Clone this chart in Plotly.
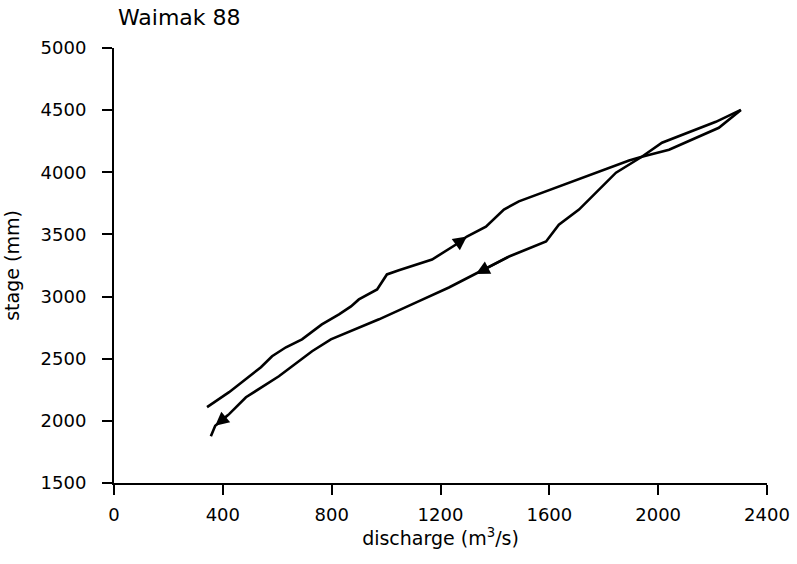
import plotly.graph_objects as go

# Rising limb (upper curve at low flows), discharge m3/s and stage mm
rise_q = [342, 423, 540, 581, 632, 691, 764, 827, 871, 900, 967, 1003, 1047, 1169,
          1257, 1297, 1367, 1433, 1488, 1893, 1940, 2040, 2223, 2304]
rise_h = [2110, 2231, 2431, 2520, 2592, 2656, 2776, 2857, 2921, 2977, 3057, 3178, 3212, 3298,
          3419, 3483, 3563, 3700, 3766, 4095, 4125, 4181, 4358, 4502]

# Falling limb (from the peak back down)
fall_q = [2304, 2212, 2014, 1940, 1845, 1709, 1635, 1588, 1452, 1330, 1231, 1121, 974,
          797, 728, 606, 485, 423, 372, 356]
fall_h = [4502, 4406, 4238, 4125, 3997, 3700, 3579, 3443, 3322, 3182, 3073, 2963, 2817,
          2656, 2560, 2359, 2190, 2054, 1960, 1877]

# indices of points where direction arrows sit
rise_arrow_idx = [15]
fall_arrow_idx = [9, 18]

x_ticks = [0, 400, 800, 1200, 1600, 2000, 2400]
y_ticks = [1500, 2000, 2500, 3000, 3500, 4000, 4500, 5000]

FONT = "DejaVu Sans"
W, H = 797, 564

fig = go.Figure()
fig.add_trace(go.Scatter(x=rise_q, y=rise_h, mode="lines",
                         line=dict(color="black", width=2.6), showlegend=False))
fig.add_trace(go.Scatter(x=fall_q, y=fall_h, mode="lines",
                         line=dict(color="black", width=2.6), showlegend=False))

for xs, ys, idxs in ((rise_q, rise_h, rise_arrow_idx), (fall_q, fall_h, fall_arrow_idx)):
    for i in idxs:
        fig.add_annotation(x=xs[i], y=ys[i], ax=xs[i - 1], ay=ys[i - 1],
                           xref="x", yref="y", axref="x", ayref="y",
                           text="", showarrow=True, arrowhead=2, arrowsize=1.25,
                           arrowwidth=2.2, arrowcolor="black", standoff=0)

fig.update_layout(
    width=W, height=H,
    margin=dict(l=114, r=30, t=48, b=81, autoexpand=False),
    paper_bgcolor="white", plot_bgcolor="white",
    title=dict(text="Waimak 88", xref="container", yref="container",
               x=118 / W, xanchor="left", y=1 - 17.5 / H, yanchor="middle",
               font=dict(family=FONT, size=22, color="black")),
    font=dict(family=FONT, color="black"),
)
fig.update_xaxes(range=[0, 2400], tickvals=x_ticks, ticktext=[str(v) for v in x_ticks],
                 automargin=False,
                 title=dict(text="discharge (m<sup>3</sup>/s)", standoff=6,
                            font=dict(family=FONT, size=19, color="black")),
                 showgrid=False, zeroline=False, showline=True, linecolor="black",
                 linewidth=2, ticks="outside", ticklen=10, tickwidth=1.6, tickcolor="black",
                 tickfont=dict(family=FONT, size=18, color="black"), ticklabelstandoff=4)
fig.update_yaxes(range=[1500, 5000], tickvals=y_ticks, ticktext=[str(v) for v in y_ticks],
                 automargin=False,
                 title=dict(text="stage (mm)", standoff=16,
                            font=dict(family=FONT, size=19, color="black")),
                 showgrid=False, zeroline=False, showline=True, linecolor="black",
                 linewidth=2, ticks="outside", ticklen=10, tickwidth=1.6, tickcolor="black",
                 tickfont=dict(family=FONT, size=18, color="black"), ticklabelstandoff=12)

fig.write_html("out.html", config={"displayModeBar": False},
               post_script="document.body.style.margin='0';document.body.style.overflow='hidden';")
